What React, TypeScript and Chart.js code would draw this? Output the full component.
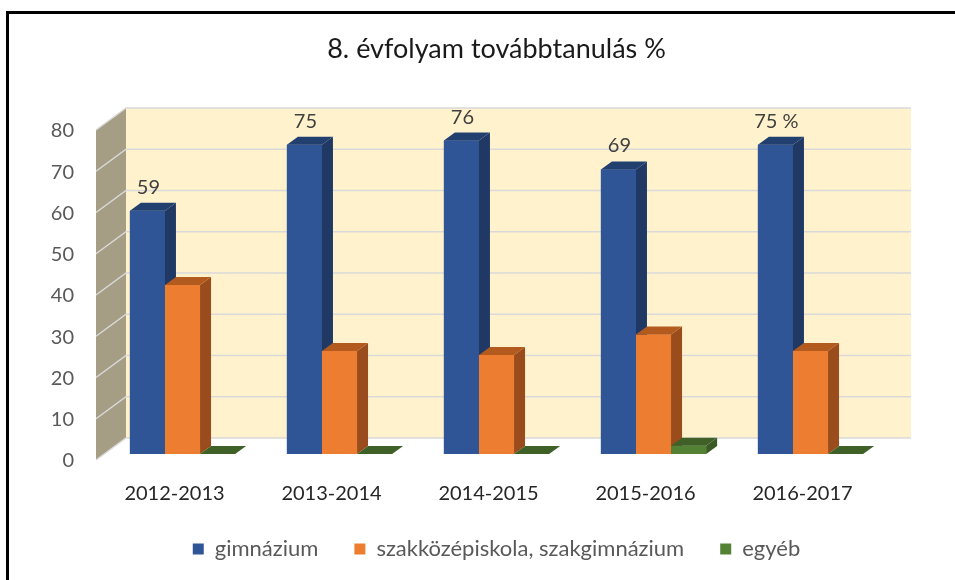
import React, { useEffect, useRef } from "react";
import { Chart, registerables } from "chart.js";

Chart.register(...registerables);

const titleText = "8. évfolyam továbbtanulás %";
const categories = ["2012-2013", "2013-2014", "2014-2015", "2015-2016", "2016-2017"];
const seriesNames = ["gimnázium", "szakközépiskola, szakgimnázium", "egyéb"];
const gimnazium = [59, 75, 76, 69, 75];
const szakkozep = [41, 25, 24, 29, 25];
const egyeb = [0, 0, 0, 2, 0];
const yMin = 0;
const yMax = 80;
const yStep = 10;

const frontColors = ["#2F5597", "#ED7D31", "#548235"];
const sideColors = ["#1F3864", "#9A4C1C", "#3A5A24"];
const topColors = ["#22406F", "#B35A1E", "#3F6127"];

const FONT = "Lato, 'Open Sans', sans-serif";
const W = 955;
const H = 580;
const PLOT_TOP = 124;
const PLOT_BOTTOM = 454;
const PLOT_LEFT = 104;
const PLOT_RIGHT = 889;
const X_AXIS_H = 48;
const LEG_FONT = 22;
const LEG_PAD = 36;
const LEG_H = LEG_FONT + LEG_PAD + 10;
const BOTTOM_PAD = H - PLOT_BOTTOM - X_AXIS_H - LEG_H;
const TITLE_SIZE = 27;
const TITLE_TOP = 33;

const BAR_DEPTH = { dx: 11, dy: -8 };
const BACK = { dx: 22, dy: -16 };
const FRONT = { dx: -8, dy: 6 };

const threeD = {
  id: "threeD",
  beforeDraw(chart: any) {
    const ctx = chart.ctx;
    ctx.save();
    ctx.fillStyle = "#ffffff";
    ctx.fillRect(0, 0, W, H);
    ctx.strokeStyle = "#000000";
    ctx.lineWidth = 3;
    ctx.beginPath();
    ctx.moveTo(7.5, H);
    ctx.lineTo(7.5, 12.5);
    ctx.lineTo(W, 12.5);
    ctx.stroke();
    ctx.restore();
  },
  beforeDatasetsDraw(chart: any) {
    const ctx = chart.ctx;
    const ys = chart.scales.y;
    const area = chart.chartArea;
    const bl = area.left + BACK.dx;
    const br = area.right + BACK.dx;
    const fl = area.left + FRONT.dx;
    const yTop = ys.getPixelForValue(yMax);
    const yBot = ys.getPixelForValue(yMin);
    ctx.save();
    ctx.fillStyle = "#FFF2CC";
    ctx.fillRect(bl, yTop + BACK.dy, br - bl, yBot - yTop);
    ctx.fillStyle = "#A69D85";
    ctx.beginPath();
    ctx.moveTo(fl, yTop + FRONT.dy);
    ctx.lineTo(bl, yTop + BACK.dy);
    ctx.lineTo(bl, yBot + BACK.dy);
    ctx.lineTo(fl, yBot + FRONT.dy);
    ctx.closePath();
    ctx.fill();
    ctx.strokeStyle = "#D9D9D9";
    ctx.lineWidth = 1.5;
    for (let v = yMin; v <= yMax; v += yStep) {
      const yp = ys.getPixelForValue(v);
      ctx.beginPath();
      ctx.moveTo(fl, yp + FRONT.dy);
      ctx.lineTo(bl, yp + BACK.dy);
      ctx.lineTo(br, yp + BACK.dy);
      ctx.stroke();
    }
    ctx.restore();
  },
  afterDatasetsDraw(chart: any) {
    const ctx = chart.ctx;
    ctx.save();
    chart.data.datasets.forEach((_ds: any, i: number) => {
      const meta = chart.getDatasetMeta(i);
      for (const el of meta.data) {
        el.draw(ctx);
        const { x, y, base, width } = el;
        const l = x - width / 2;
        const r = x + width / 2;
        ctx.fillStyle = sideColors[i];
        ctx.beginPath();
        ctx.moveTo(r, y);
        ctx.lineTo(r + BAR_DEPTH.dx, y + BAR_DEPTH.dy);
        ctx.lineTo(r + BAR_DEPTH.dx, base + BAR_DEPTH.dy);
        ctx.lineTo(r, base);
        ctx.closePath();
        ctx.fill();
        ctx.fillStyle = topColors[i];
        ctx.beginPath();
        ctx.moveTo(l, y);
        ctx.lineTo(l + BAR_DEPTH.dx, y + BAR_DEPTH.dy);
        ctx.lineTo(r + BAR_DEPTH.dx, y + BAR_DEPTH.dy);
        ctx.lineTo(r, y);
        ctx.closePath();
        ctx.fill();
      }
    });
    const meta0 = chart.getDatasetMeta(0);
    const data = chart.data.datasets[0].data;
    ctx.font = `20px ${FONT}`;
    ctx.fillStyle = "#404040";
    ctx.textAlign = "center";
    ctx.textBaseline = "alphabetic";
    meta0.data.forEach((el: any, k: number) => {
      const txt = k === data.length - 1 ? `${data[k]} %` : `${data[k]}`;
      ctx.fillText(txt, el.x + 1, el.y - 17);
    });
    ctx.restore();
  },
};

export default function App() {
  const ref = useRef<HTMLCanvasElement | null>(null);
  useEffect(() => {
    if (!ref.current) return;
    const chart = new Chart(ref.current, {
      type: "bar",
      data: {
        labels: categories,
        datasets: [
          { label: seriesNames[0], data: gimnazium, backgroundColor: frontColors[0] },
          { label: seriesNames[1], data: szakkozep, backgroundColor: frontColors[1] },
          { label: seriesNames[2], data: egyeb, backgroundColor: frontColors[2] },
        ],
      },
      options: {
        responsive: false,
        animation: false,
        devicePixelRatio: 1,
        layout: { padding: { left: 0, right: W - PLOT_RIGHT, top: 0, bottom: BOTTOM_PAD } },
        datasets: { bar: { barPercentage: 1, categoryPercentage: 0.67, borderWidth: 0 } },
        scales: {
          x: {
            grid: { display: false, drawTicks: false },
            border: { display: false },
            ticks: {
              font: { family: FONT, size: 20 },
              color: "#262626",
              padding: 28,
              labelOffset: -8,
              maxRotation: 0,
            },
            afterFit(scale: any) {
              scale.height = X_AXIS_H;
            },
          },
          y: {
            min: yMin,
            max: yMax,
            grid: { display: false, drawTicks: false },
            border: { display: false },
            ticks: {
              stepSize: yStep,
              font: { family: FONT, size: 20 },
              color: "#595959",
              padding: 30,
              labelOffset: 7,
            },
            afterFit(scale: any) {
              scale.width = PLOT_LEFT;
            },
          },
        },
        plugins: {
          title: {
            display: true,
            fullSize: false,
            text: titleText,
            color: "#1a1a1a",
            font: { family: FONT, size: TITLE_SIZE, weight: "normal", lineHeight: 1.2 },
            padding: { top: TITLE_TOP, bottom: PLOT_TOP - TITLE_TOP - TITLE_SIZE * 1.2 },
          },
          legend: {
            position: "bottom",
            fullSize: false,
            labels: {
              font: { family: FONT, size: LEG_FONT },
              color: "#595959",
              boxWidth: 11,
              boxHeight: 11,
              padding: LEG_PAD,
            },
          },
          tooltip: { enabled: false },
        },
      },
      plugins: [threeD],
    } as any);
    return () => chart.destroy();
  }, []);
  return (
    <div style={{ position: "absolute", left: 0, top: 0, width: W, height: H }}>
      <canvas ref={ref} width={W} height={H} />
    </div>
  );
}
